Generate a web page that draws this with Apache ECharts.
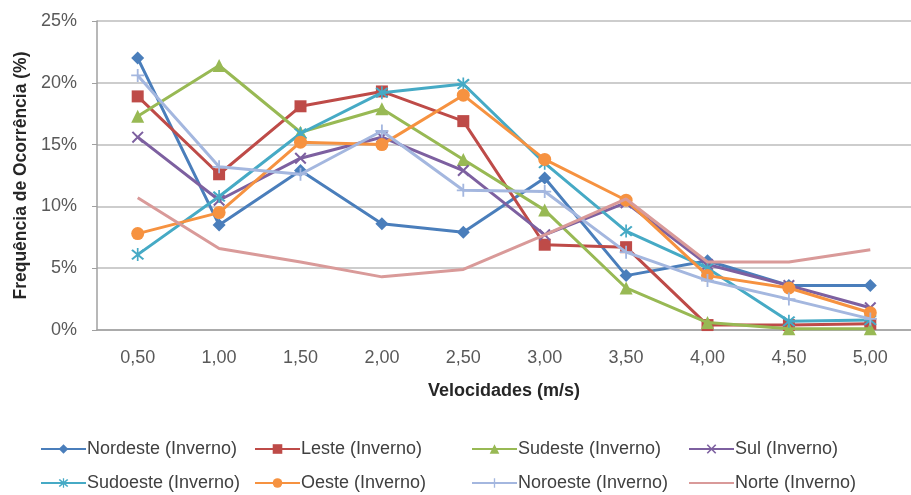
<!DOCTYPE html>
<html>
<head>
<meta charset="utf-8">
<script src="https://cdn.jsdelivr.net/npm/echarts@6/dist/echarts.min.js"></script>
<style>
html,body{margin:0;padding:0;background:#fff;}
#chart{width:911px;height:495px;}
</style>
</head>
<body>
<div id="chart"></div>
<script>
// Categories (wind speed, m/s)
const categories = ['0,50','1,00','1,50','2,00','2,50','3,00','3,50','4,00','4,50','5,00'];
// Frequency of occurrence (%) per direction, winter
const nordeste = [22.0, 8.5, 12.9, 8.6, 7.9, 12.3, 4.4, 5.6, 3.6, 3.6];
const leste    = [18.9, 12.6, 18.1, 19.3, 16.9, 6.9, 6.7, 0.4, 0.4, 0.5];
const sudeste  = [17.3, 21.4, 16.0, 17.9, 13.8, 9.7, 3.4, 0.6, 0.1, 0.1];
const sul      = [15.6, 10.5, 13.9, 15.6, 12.9, 7.7, 10.3, 5.3, 3.6, 1.8];
const sudoeste = [6.1, 10.8, 15.9, 19.2, 19.9, 13.5, 8.0, 5.0, 0.7, 0.8];
const oeste    = [7.8, 9.5, 15.2, 15.0, 19.0, 13.8, 10.5, 4.4, 3.4, 1.4];
const noroeste = [20.6, 13.2, 12.6, 16.1, 11.3, 11.2, 6.3, 4.0, 2.5, 0.9];
const norte    = [10.7, 6.6, 5.5, 4.3, 4.9, 7.7, 10.6, 5.5, 5.5, 6.5];

const seriesNames = ['Nordeste (Inverno)','Leste (Inverno)','Sudeste (Inverno)','Sul (Inverno)',
  'Sudoeste (Inverno)','Oeste (Inverno)','Noroeste (Inverno)','Norte (Inverno)'];
const seriesData = [nordeste, leste, sudeste, sul, sudoeste, oeste, noroeste, norte];
const yTicks = [0, 5, 10, 15, 20, 25];

const X_PATH = 'path://M0,1.2 L1.2,0 L10,8.8 L8.8,10 Z M8.8,0 L10,1.2 L1.2,10 L0,8.8 Z';
const STAR_PATH = 'path://M0,1.2 L1.2,0 L10,8.8 L8.8,10 Z M8.8,0 L10,1.2 L1.2,10 L0,8.8 Z M4.35,-1 L5.65,-1 L5.65,11 L4.35,11 Z';
const PLUS_PATH = 'path://M4.3,0 L5.7,0 L5.7,10 L4.3,10 Z M0,4.3 L10,4.3 L10,5.7 L0,5.7 Z';

const styles = [
  {color:'#4A7EBB', symbol:'diamond', size:13},
  {color:'#BE4B48', symbol:'rect', size:12},
  {color:'#98B954', symbol:'triangle', size:13},
  {color:'#7D60A0', symbol:X_PATH, size:12},
  {color:'#46AAC5', symbol:STAR_PATH, size:13},
  {color:'#F69240', symbol:'circle', size:13},
  {color:'#A4B7DF', symbol:PLUS_PATH, size:13},
  {color:'#D99A99', symbol:'none', size:0}
];

const FONT = '"Liberation Sans", Arial, sans-serif';

const series = seriesNames.map((name, i) => ({
  name: name,
  type: 'line',
  data: seriesData[i],
  symbol: styles[i].symbol,
  symbolSize: styles[i].size,
  showAllSymbol: true,
  lineStyle: {width: 3, color: styles[i].color},
  itemStyle: {color: styles[i].color},
  emphasis: {disabled: true},
  z: 2 + i
}));

const legendCols = [
  {left: 40, names: [seriesNames[0], seriesNames[4]]},
  {left: 254, names: [seriesNames[1], seriesNames[5]]},
  {left: 471, names: [seriesNames[2], seriesNames[6]]},
  {left: 688, names: [seriesNames[3], seriesNames[7]]}
];

const legends = legendCols.map(c => ({
  orient: 'vertical',
  left: c.left,
  top: 439,
  itemWidth: 45,
  itemHeight: 12,
  itemGap: 14,
  padding: 0,
  selectedMode: false,
  data: c.names.map(n => n === 'Norte (Inverno)'
    ? {name: n, itemStyle: {opacity: 0}}
    : n),
  textStyle: {fontFamily: FONT, fontSize: 18, color: '#404040', lineHeight: 20, padding: [0,0,0,-4]}
}));

const chart = echarts.init(document.getElementById('chart'), null, {renderer: 'canvas'});
chart.setOption({
  animation: false,
  backgroundColor: '#ffffff',
  grid: {left: 97, top: 21, width: 832, bottom: 165, containLabel: false},
  legend: legends,
  xAxis: {
    type: 'category',
    data: categories,
    boundaryGap: true,
    name: 'Velocidades (m/s)',
    nameLocation: 'middle',
    nameGap: 52,
    nameTextStyle: {fontFamily: FONT, fontSize: 18, fontWeight: 'bold', color: '#262626'},
    axisLine: {lineStyle: {color: '#A0A0A0', width: 1.5}},
    axisTick: {show: false},
    axisLabel: {fontFamily: FONT, fontSize: 18, color: '#595959', margin: 19},
    splitLine: {show: false}
  },
  yAxis: {
    type: 'value',
    min: yTicks[0],
    max: yTicks[yTicks.length - 1],
    interval: 5,
    name: 'Frequência de Ocorrência (%)',
    nameLocation: 'middle',
    nameGap: 63,
    nameTextStyle: {fontFamily: FONT, fontSize: 17.5, fontWeight: 'bold', color: '#262626'},
    axisLine: {show: true, lineStyle: {color: '#A0A0A0', width: 1.5}},
    axisTick: {show: true, length: 5, lineStyle: {color: '#A0A0A0'}},
    axisLabel: {fontFamily: FONT, fontSize: 18, color: '#595959', margin: 20, formatter: '{value}%'},
    splitLine: {show: true, lineStyle: {color: '#BDBDBD', width: 1.5}}
  },
  series: series
});
</script>
</body>
</html>
